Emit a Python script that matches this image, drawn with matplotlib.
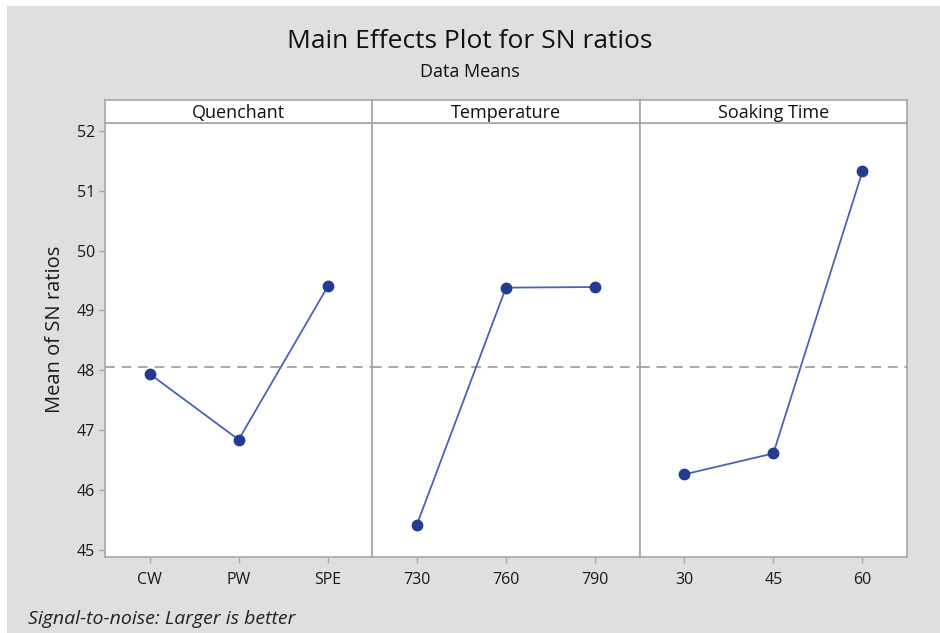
import matplotlib.pyplot as plt
import matplotlib as mpl
import numpy as np
from matplotlib import patches

mpl.rcParams.update({
    'font.family': ['Open Sans', 'DejaVu Sans'],
    'axes.linewidth': 1.2,
})

factors = ['Quenchant', 'Temperature', 'Soaking Time']
quench_levels = ['CW', 'PW', 'SPE']
quench_sn = [47.94, 46.84, 49.40]
temp_levels = ['730', '760', '790']
temp_sn = [45.42, 49.38, 49.39]
soak_levels = ['30', '45', '60']
soak_sn = [46.26, 46.61, 51.32]
y_ticks = [45, 46, 47, 48, 49, 50, 51, 52]

levels = [quench_levels, temp_levels, soak_levels]
values = [quench_sn, temp_sn, soak_sn]
grand_mean = np.mean(quench_sn + temp_sn + soak_sn)

bg = '#dfdfdf'
frame = '#a6a6a6'
line_c = '#4a63b5'
mark_c = '#243b94'
text_c = '#1a1a1a'

fig = plt.figure(figsize=(9.4, 6.33), dpi=100, facecolor='white')
# gray panel with a thin white margin on top and left
fig.patches.append(patches.Rectangle((7 / 940, 0), 1, 1 - 6 / 633,
                                     transform=fig.transFigure, facecolor=bg,
                                     edgecolor='none', zorder=-10))

left, right = 105 / 940, 907 / 940
bottom, top = 1 - 557 / 633, 1 - 123 / 633
head_h = 23 / 633
w = (right - left) / 3

for i, (name, lv, vals) in enumerate(zip(factors, levels, values)):
    ax = fig.add_axes([left + i * w, bottom, w, top - bottom])
    ax.set_facecolor('white')
    x = np.arange(1, len(lv) + 1)
    ax.axhline(grand_mean, color='#a8a8a8', lw=1.4, ls=(0, (5, 3.5)), zorder=1)
    ax.plot(x, vals, color=line_c, lw=1.3, zorder=2)
    ax.plot(x, vals, 'o', color=mark_c, ms=7.5, zorder=3)
    ax.set_xlim(0.5, 3.5)
    ax.set_ylim(44.88, 52.13)
    ax.set_xticks(x)
    ax.set_xticklabels(lv)
    ax.tick_params(axis='x', length=4, width=1, color=frame, labelsize=11.5,
                   pad=7, labelcolor=text_c)
    ax.set_yticks(y_ticks)
    if i == 0:
        ax.tick_params(axis='y', length=4, width=1, color=frame, labelsize=11.5,
                       pad=3, labelcolor=text_c)
        ax.set_ylabel('Mean of SN ratios', fontsize=14.5, color=text_c)
        ax.yaxis.set_label_coords(-0.15, 0.525)
    else:
        ax.tick_params(axis='y', length=0, labelleft=False)
    for sp in ax.spines.values():
        sp.set_color(frame)

    hax = fig.add_axes([left + i * w, top, w, head_h])
    hax.set_facecolor('white')
    hax.set_xticks([])
    hax.set_yticks([])
    for sp in hax.spines.values():
        sp.set_color(frame)
    hax.text(0.5, 0.45, name, ha='center', va='center', fontsize=13,
             color='#111111', transform=hax.transAxes)

fig.text(0.5, 1 - 42 / 633, 'Main Effects Plot for SN ratios', ha='center', va='center',
         fontsize=19, color='#111111')
fig.text(0.5, 1 - 72 / 633, 'Data Means', ha='center', va='center',
         fontsize=13, color='#111111')
fig.text(28 / 940, 1 - 619 / 633, 'Signal-to-noise: Larger is better', ha='left',
         va='center', fontsize=14, style='italic', color='#222222')

fig.savefig('out.png', dpi=100, facecolor='white')
